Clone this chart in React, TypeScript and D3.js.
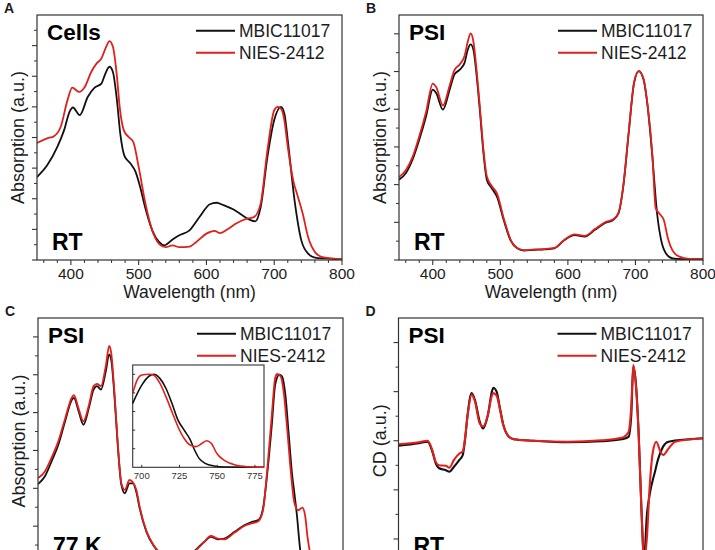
import * as d3 from "d3";

type Pt = [number, number];

// Absorption of whole cells at room temperature, [wavelength nm, a.u.]
const cellsMbic: Pt[] = [
  [350, 2.71], [365, 3.09], [380, 3.69], [390, 4.24], [398, 4.84], [403, 4.98],
  [413, 4.73], [425, 5.33], [435, 5.63], [445, 5.76], [450, 6.04], [457, 6.31],
  [462, 6.14], [468, 5.2], [473, 4.1], [479, 3.4], [488, 3.15], [495, 2.9],
  [502, 2.4], [510, 1.68], [520, 0.97], [530, 0.59], [538, 0.48], [550, 0.67],
  [560, 0.81], [575, 0.97], [590, 1.41], [605, 1.82], [615, 1.87], [625, 1.79],
  [640, 1.65], [655, 1.43], [665, 1.3], [672, 1.26], [680, 1.73], [690, 3.37],
  [700, 4.57], [710, 5.0], [715, 4.78], [720, 3.91], [730, 1.95], [740, 0.64],
  [750, 0.21], [760, 0.08], [775, 0.05], [800, 0.02],
];
const cellsNies: Pt[] = [
  [350, 3.82], [365, 3.97], [375, 4.04], [385, 4.35], [395, 5.22], [402, 5.63],
  [412, 5.49], [420, 5.63], [430, 6.14], [438, 6.42], [445, 6.58], [452, 6.96],
  [457, 7.15], [462, 6.96], [468, 5.98], [472, 5.0], [478, 4.24], [485, 4.02],
  [492, 3.86], [500, 3.04], [510, 1.84], [520, 0.97], [530, 0.53], [540, 0.42],
  [550, 0.48], [560, 0.42], [575, 0.44], [585, 0.59], [600, 0.86], [612, 0.95],
  [620, 0.88], [630, 0.99], [645, 1.21], [660, 1.35], [670, 1.4], [680, 1.84],
  [690, 3.59], [700, 4.89], [705, 5.0], [710, 4.94], [715, 4.56], [720, 3.69],
  [728, 2.6], [735, 2.06], [742, 1.52], [750, 0.75], [760, 0.26], [770, 0.1],
  [785, 0.05], [800, 0.02],
];

// Isolated PSI at room temperature
const psiRtMbic: Pt[] = [
  [350, 2.13], [360, 2.3], [370, 2.66], [380, 3.19], [390, 3.81], [400, 4.52],
  [405, 4.43], [415, 3.99], [425, 4.52], [432, 4.92], [440, 5.05], [447, 5.23],
  [452, 5.59], [456, 5.72], [460, 5.59], [465, 4.88], [470, 3.9], [475, 2.84],
  [480, 2.13], [487, 1.91], [495, 1.68], [505, 1.06], [515, 0.53], [525, 0.31],
  [535, 0.25], [550, 0.27], [565, 0.28], [580, 0.31], [595, 0.53], [610, 0.66],
  [625, 0.62], [640, 0.8], [655, 0.98], [667, 1.06], [675, 1.24], [682, 1.95],
  [690, 3.37], [698, 4.7], [705, 5.01], [712, 4.79], [718, 4.08], [725, 2.75],
  [732, 1.24], [738, 0.53], [745, 0.18], [755, 0.04], [770, 0.02], [800, 0.02],
];
const psiRtNies: Pt[] = [
  [350, 2.2], [360, 2.38], [370, 2.73], [380, 3.28], [390, 3.92], [400, 4.68],
  [405, 4.59], [415, 4.1], [425, 4.63], [432, 5.04], [440, 5.19], [447, 5.41],
  [452, 5.81], [456, 6.01], [460, 5.81], [465, 5.01], [470, 3.99], [475, 2.93],
  [480, 2.22], [487, 1.97], [495, 1.77], [505, 1.11], [515, 0.55], [525, 0.32],
  [535, 0.26], [550, 0.28], [565, 0.29], [580, 0.32], [595, 0.54], [610, 0.68],
  [625, 0.64], [640, 0.82], [655, 1.0], [667, 1.08], [675, 1.26], [682, 1.97],
  [690, 3.39], [698, 4.72], [705, 5.01], [712, 4.8], [718, 4.1], [725, 2.8],
  [730, 1.37], [735, 1.24], [742, 1.06], [748, 0.58], [755, 0.25], [765, 0.09],
  [780, 0.03], [800, 0.02],
];

// Isolated PSI at 77 K
const psi77Mbic: Pt[] = [
  [350, 2.11], [360, 2.31], [370, 2.71], [380, 3.15], [390, 3.77], [400, 4.34],
  [403, 4.39], [410, 4.03], [417, 3.68], [425, 4.12], [432, 4.61], [437, 4.7],
  [443, 4.61], [450, 5.09], [455, 5.54], [458, 5.4], [463, 4.39], [468, 3.06],
  [473, 2.09], [478, 1.87], [485, 2.13], [490, 2.13], [495, 1.91], [500, 1.47],
  [510, 0.85], [520, 0.5], [530, 0.28], [540, 0.13], [555, 0.01], [565, 0.0],
  [580, 0.32], [595, 0.58], [605, 0.72], [615, 0.65], [625, 0.67], [640, 0.85],
  [655, 1.03], [665, 1.11], [675, 1.16], [682, 1.47], [688, 2.35], [695, 3.68],
  [700, 4.74], [706, 5.0], [710, 4.96], [715, 4.47], [720, 3.41], [725, 2.35],
  [728, 1.91], [732, 1.29], [737, 0.36], [742, 0.05], [750, 0.0], [800, 0.0],
];
const psi77Nies: Pt[] = [
  [350, 2.27], [360, 2.44], [370, 2.81], [380, 3.24], [390, 3.84], [400, 4.4],
  [403, 4.46], [410, 4.1], [417, 3.77], [425, 4.19], [432, 4.7], [437, 4.76],
  [443, 4.7], [450, 5.23], [455, 5.76], [458, 5.58], [463, 4.47], [468, 3.1],
  [473, 2.13], [478, 1.96], [485, 2.22], [490, 2.16], [495, 1.96], [500, 1.51],
  [510, 0.87], [520, 0.51], [530, 0.29], [540, 0.14], [555, 0.01], [565, 0.0],
  [580, 0.3], [595, 0.58], [605, 0.74], [615, 0.67], [625, 0.65], [640, 0.83],
  [655, 1.01], [665, 1.07], [675, 1.13], [682, 1.42], [688, 2.44], [695, 3.94],
  [700, 4.92], [703, 5.02], [708, 4.96], [713, 4.47], [718, 3.5], [723, 2.44],
  [728, 1.64], [734, 1.42], [740, 1.49], [744, 1.29], [748, 0.67], [752, 0.27],
  [760, 0.04], [800, 0.0],
];

// 77 K red edge, normalised to the Qy maximum
const insetMbic: Pt[] = [
  [694, 3.44], [700, 4.42], [705, 4.91], [708, 5.0], [712, 4.78], [716, 4.25],
  [720, 3.44], [724, 2.54], [728, 2.01], [732, 1.5], [735, 0.93], [738, 0.48],
  [742, 0.21], [748, 0.07], [755, 0.02], [781, 0.0],
];
const insetNies: Pt[] = [
  [694, 3.98], [697, 4.7], [700, 4.96], [705, 5.0], [708, 4.95], [712, 4.52],
  [716, 3.8], [720, 2.99], [724, 2.18], [728, 1.56], [732, 1.2], [736, 1.11],
  [740, 1.29], [743, 1.43], [746, 1.29], [750, 0.71], [755, 0.36], [762, 0.12],
  [770, 0.03], [781, 0.0],
];

// Circular dichroism of PSI at room temperature
const cdMbic: Pt[] = [
  [350, -0.1], [380, -0.05], [393, -0.02], [400, -0.22], [405, -0.46], [410, -0.56],
  [420, -0.6], [425, -0.63], [432, -0.53], [440, -0.39], [445, -0.29], [448, -0.02],
  [452, 0.52], [458, 0.97], [463, 0.83], [470, 0.39], [475, 0.25], [482, 0.52],
  [488, 1.0], [490, 1.08], [495, 1.0], [500, 0.66], [505, 0.32], [512, 0.1],
  [520, 0.03], [550, 0.0], [600, -0.03], [650, -0.01], [680, 0.03], [690, 0.08],
  [694, 0.52], [697, 1.51], [701, 1.14], [705, 0.12], [709, -1.38], [713, -2.4],
  [717, -1.52], [721, -1.11], [729, -0.63], [734, -0.36], [741, -0.12], [749, -0.02],
  [800, 0.05],
];
const cdNies: Pt[] = [
  [350, -0.07], [380, -0.03], [393, 0.0], [400, -0.19], [405, -0.43], [410, -0.5],
  [420, -0.51], [425, -0.55], [432, -0.39], [440, -0.26], [445, -0.22], [448, 0.01],
  [452, 0.49], [458, 0.94], [463, 0.8], [470, 0.35], [475, 0.29], [482, 0.52],
  [488, 0.92], [490, 0.97], [495, 0.92], [500, 0.63], [505, 0.31], [512, 0.1],
  [520, 0.03], [550, 0.0], [600, -0.02], [650, 0.01], [680, 0.06], [690, 0.18],
  [694, 0.7], [697, 1.54], [701, 1.1], [705, 0.1], [709, -1.4], [713, -2.45],
  [717, -1.99], [721, -0.97], [726, -0.22], [731, -0.02], [737, -0.22], [741, -0.29],
  [749, -0.16], [759, -0.02], [800, 0.05],
];

const SERIES = ["MBIC11017", "NIES-2412"];
const COLORS = ["#111111", "#e0201c"];
const FONT = "'Liberation Sans', Arial, Helvetica, sans-serif";
const INK = "#1c1c1c";

interface PanelProps {
  id: string;
  letter: string;
  x0: number;
  x1: number;
  y0: number;
  y1: number;
  yDomain: [number, number];
  yLabel: string;
  sample: string;
  condition: string;
  series: [Pt[], Pt[]];
  xLabels?: boolean;
  lineWidth?: number;
  children?: React.ReactNode;
}

function Panel({
  id,
  letter,
  x0,
  x1,
  y0,
  y1,
  yDomain,
  yLabel,
  sample,
  condition,
  series,
  xLabels = true,
  lineWidth = 1.8,
  children,
}: PanelProps) {
  const x = d3.scaleLinear().domain([350, 800]).range([x0, x1]);
  const y = d3.scaleLinear().domain(yDomain).range([y1, y0]);

  const line = d3
    .line<Pt>()
    .x((d) => x(d[0]))
    .y((d) => y(d[1]))
    .curve(d3.curveMonotoneX);

  const xMajor = [400, 500, 600, 700, 800];
  const xMinor = d3.range(360, 800, 20).filter((v) => v % 100 !== 0);
  const yMajor = d3.range(Math.ceil(yDomain[0]), Math.floor(yDomain[1]) + 1, 1).filter((v) => v < yDomain[1]);
  const yMinor = d3.range(yDomain[0], yDomain[1], 0.5).filter((v) => !Number.isInteger(v));

  const clipId = `clip-${id}`;

  return (
    <g>
      <defs>
        <clipPath id={clipId}>
          <rect x={x0} y={y0} width={x1 - x0} height={y1 - y0} />
        </clipPath>
      </defs>

      <text x={x0 - 33} y={y0 - 2} fontSize={14} fontWeight="bold" fill={INK}>
        {letter}
      </text>

      {/* spectra, red drawn last */}
      <g clipPath={`url(#${clipId})`}>
        {series.map((s, i) => (
          <path
            key={i}
            d={line(s) || ""}
            fill="none"
            stroke={COLORS[i]}
            strokeWidth={lineWidth}
            strokeLinejoin="round"
          />
        ))}
      </g>

      {/* frame */}
      <rect x={x0} y={y0} width={x1 - x0} height={y1 - y0} fill="none" stroke="#333" strokeWidth={1.2} />

      {/* y ticks */}
      {yMajor.map((v) => (
        <line key={`ym${v}`} x1={x0 - 5} x2={x0} y1={y(v)} y2={y(v)} stroke="#333" strokeWidth={1.1} />
      ))}
      {yMinor.map((v) => (
        <line key={`yn${v}`} x1={x0 - 3} x2={x0} y1={y(v)} y2={y(v)} stroke="#333" strokeWidth={1} />
      ))}

      {/* x ticks */}
      {xMajor.map((v) => (
        <line key={`xm${v}`} x1={x(v)} x2={x(v)} y1={y1} y2={y1 + 5} stroke="#333" strokeWidth={1.1} />
      ))}
      {xMinor.map((v) => (
        <line key={`xn${v}`} x1={x(v)} x2={x(v)} y1={y1} y2={y1 + 3} stroke="#333" strokeWidth={1} />
      ))}
      {xLabels && (
        <g>
          {xMajor.map((v) => (
            <text key={`xl${v}`} x={x(v)} y={y1 + 19} fontSize={15.5} textAnchor="middle" fill={INK}>
              {v}
            </text>
          ))}
          <text x={(x0 + x1) / 2} y={y1 + 37.5} fontSize={17.5} textAnchor="middle" fill={INK}>
            Wavelength (nm)
          </text>
        </g>
      )}

      <text
        transform={`translate(${x0 - 19},${(y0 + y1) / 2}) rotate(-90)`}
        fontSize={18}
        textAnchor="middle"
        dy="0.35em"
        fill={INK}
      >
        {yLabel}
      </text>

      <text x={x0 + 10} y={y0 + 25} fontSize={22.5} fontWeight="bold" fill="#000">
        {sample}
      </text>
      <text x={x0 + 15} y={y1 - 10} fontSize={23} fontWeight="bold" fill="#000">
        {condition}
      </text>

      {/* legend */}
      {SERIES.map((name, i) => (
        <g key={name}>
          <line
            x1={x0 + 159}
            x2={x0 + 198}
            y1={y0 + 15.7 + i * 22}
            y2={y0 + 15.7 + i * 22}
            stroke={COLORS[i]}
            strokeWidth={2}
          />
          <text x={x0 + 202} y={y0 + 22 + i * 22} fontSize={17.5} fill={INK}>
            {name}
          </text>
        </g>
      ))}

      {children}
    </g>
  );
}

function Inset() {
  const bx0 = 132.7;
  const bx1 = 264;
  const by0 = 365;
  const by1 = 467.3;
  const x = d3.scaleLinear().domain([694, 781]).range([bx0, bx1]);
  const y = d3.scaleLinear().domain([0, 5.5]).range([by1, by0]);
  const line = d3
    .line<Pt>()
    .x((d) => x(d[0]))
    .y((d) => y(d[1]))
    .curve(d3.curveMonotoneX);

  return (
    <g>
      <rect x={bx0} y={by0} width={bx1 - bx0} height={by1 - by0} fill="#fff" stroke="#333" strokeWidth={1.1} />
      {[insetMbic, insetNies].map((s, i) => (
        <path key={i} d={line(s) || ""} fill="none" stroke={COLORS[i]} strokeWidth={1.6} />
      ))}
      {d3.range(1, 6).map((v) => (
        <line key={`iy${v}`} x1={bx0} x2={bx0 + 2.5} y1={y(v)} y2={y(v)} stroke="#333" strokeWidth={1} />
      ))}
      {[700, 725, 750, 775].map((v) => (
        <g key={`ix${v}`}>
          <line x1={x(v)} x2={x(v)} y1={by1} y2={by1 - 2.5} stroke="#333" strokeWidth={1} />
          <text x={x(v)} y={by1 + 12} fontSize={9.5} textAnchor="middle" fill="#333">
            {v}
          </text>
        </g>
      ))}
    </g>
  );
}

export default function App() {
  return (
    <svg
      width={715}
      height={550}
      style={{ position: "absolute", left: 0, top: 0, background: "#fff" }}
      fontFamily={FONT}
    >
      <rect width={715} height={550} fill="#fff" />
      <Panel
        id="a"
        letter="A"
        x0={37}
        x1={342}
        y0={15}
        y1={260}
        yDomain={[0, 8]}
        yLabel="Absorption (a.u.)"
        sample="Cells"
        condition="RT"
        series={[cellsMbic, cellsNies]}
      />
      <Panel
        id="b"
        letter="B"
        x0={399}
        x1={703}
        y0={15}
        y1={260}
        yDomain={[0, 6.5]}
        yLabel="Absorption (a.u.)"
        sample="PSI"
        condition="RT"
        series={[psiRtMbic, psiRtNies]}
      />
      <Panel
        id="c"
        letter="C"
        x0={38}
        x1={343}
        y0={318}
        y1={564}
        yDomain={[0, 6.5]}
        yLabel="Absorption (a.u.)"
        sample="PSI"
        condition="77 K"
        series={[psi77Mbic, psi77Nies]}
        xLabels={false}
      >
        <Inset />
      </Panel>
      <Panel
        id="d"
        letter="D"
        x0={398.5}
        x1={703}
        y0={318}
        y1={563.5}
        yDomain={[-2.5, 2.5]}
        yLabel="CD (a.u.)"
        sample="PSI"
        condition="RT"
        series={[cdMbic, cdNies]}
        xLabels={false}
        lineWidth={2.1}
      />
    </svg>
  );
}
